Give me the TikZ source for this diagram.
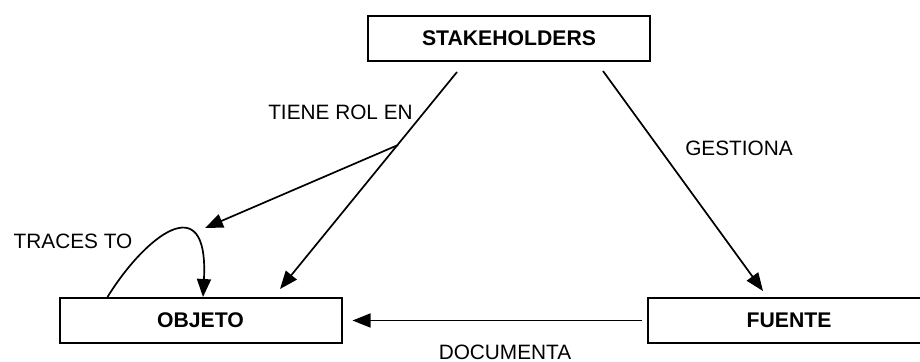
\documentclass[tikz,border=0pt]{standalone}
\usepackage{fontspec}
\setmainfont{Liberation Sans}
\usepackage{tikz}
\usetikzlibrary{arrows.meta,calc}
\tikzset{
  entity/.style={draw, line width=1pt, minimum width=141pt, minimum height=22.5pt, inner sep=0pt, font=\fontsize{10.6}{12}\selectfont\bfseries},
  rellab/.style={inner sep=0pt},
  arrow/.style={-{Triangle[length=9pt,width=7pt]}, line width=0.85pt},
}

\begin{document}
\begin{tikzpicture}[x=0.5pt,y=-0.5pt,font=\fontsize{10.4}{12}\selectfont]
\useasboundingbox (0,0) rectangle (920,361);
\node[entity] (sth) at (509,38) {STAKEHOLDERS};
\node[entity] (obj) at (200.5,320.5) {OBJETO};
\node[entity] (fte) at (789,320.5) {FUENTE};
\node[rellab] (rolen) at (340.5,112) {TIENE ROL EN};
\node[rellab] (gest) at (739,148) {GESTIONA};
\node[rellab] (trc) at (73,241) {TRACES TO};
\node[rellab] (doc) at (505,352) {DOCUMENTA};
\coordinate (s1) at (457,72);
\coordinate (rol) at (398,145);
\coordinate (o1) at (280,289);
\coordinate (o2) at (205,228);
\coordinate (s2) at (603,71);
\coordinate (f1) at (763,291);
\draw[arrow] (s1) -- (o1);
\draw[arrow] (rol) -- (o2);
\draw[arrow] (s2) -- (f1);
\draw[arrow] ([xshift=-2.5pt]fte.west) -- ([xshift=5pt]obj.east);
\draw[arrow] ($(obj.north west)+(49,0)$) .. controls +(37,-60) and +(6,-112) .. ([xshift=1.25pt]obj.north);
\end{tikzpicture}
\end{document}
